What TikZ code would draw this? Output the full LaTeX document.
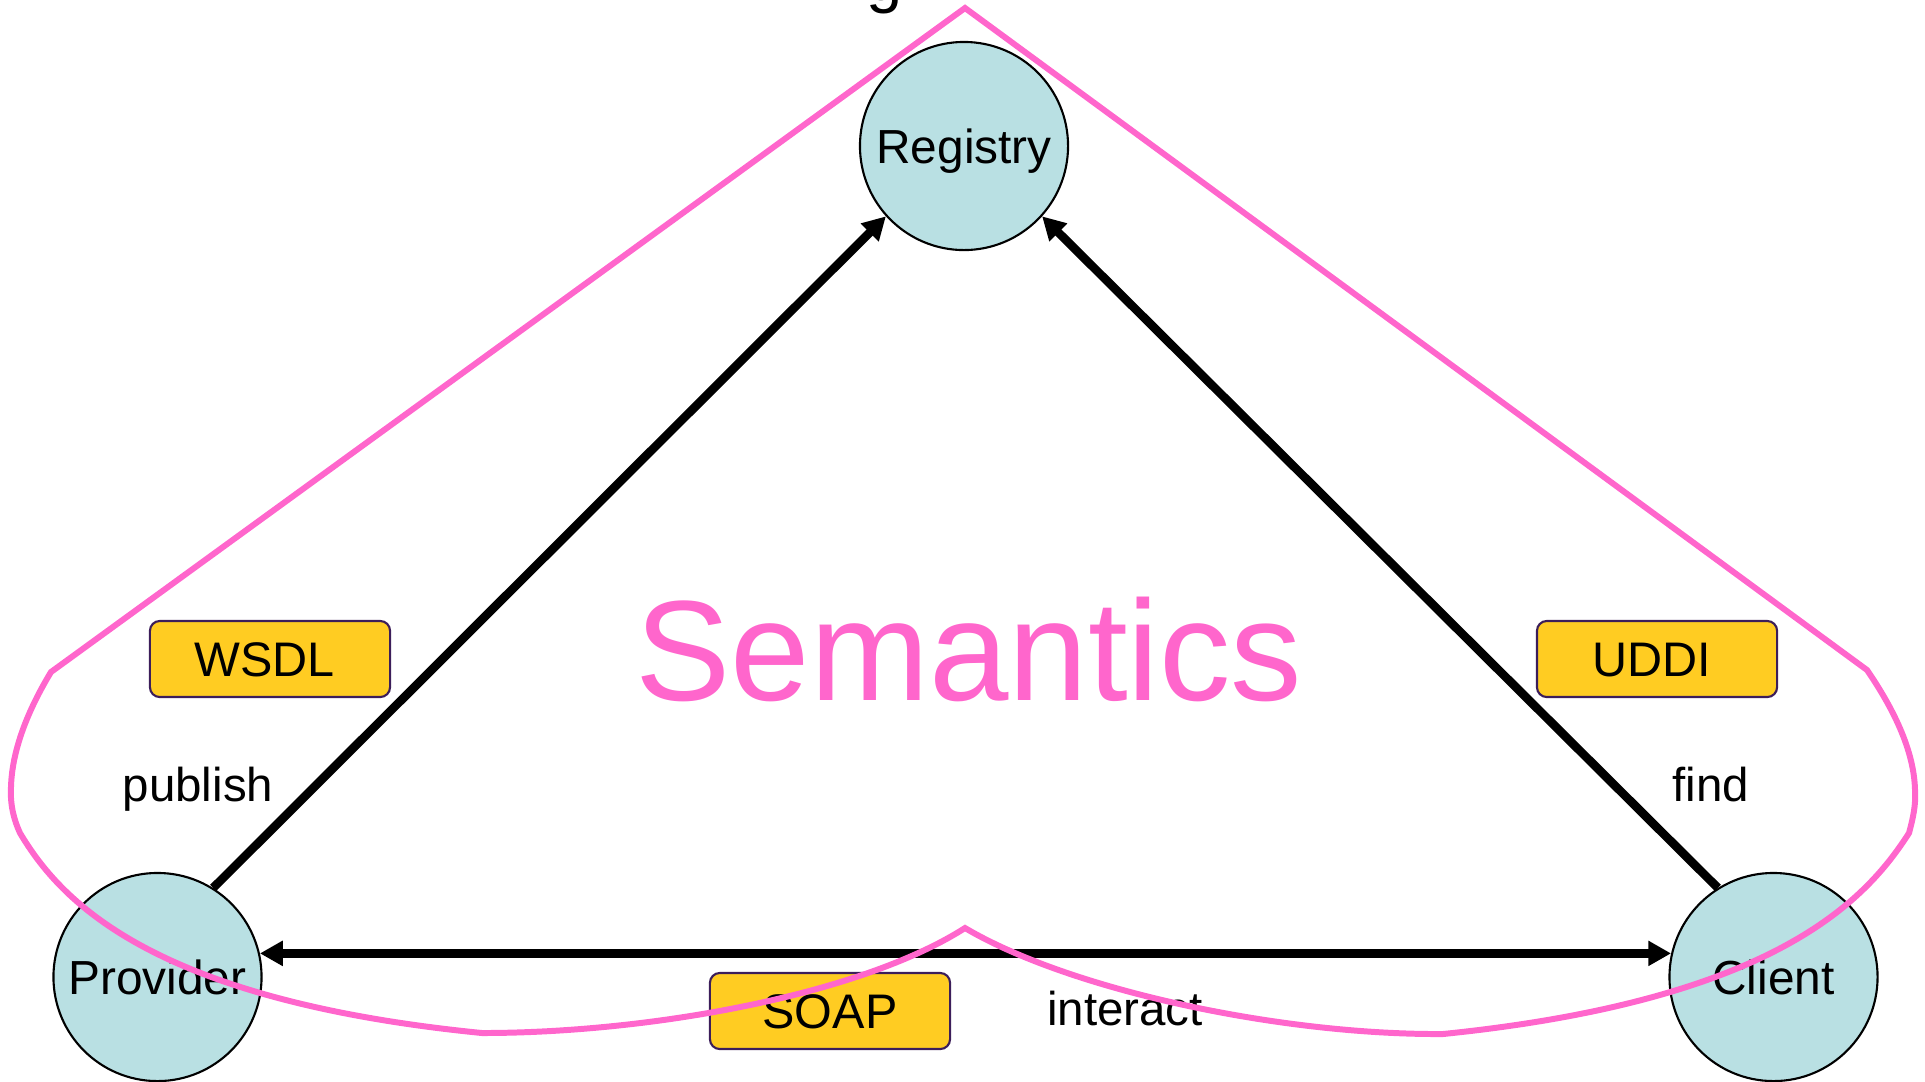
\documentclass[tikz,border=0pt]{standalone}
\usepackage{fontspec}
\setmainfont{Liberation Sans}
\usetikzlibrary{arrows.meta}
\definecolor{circfill}{RGB}{185,224,227}
\definecolor{boxfill}{RGB}{255,204,34}
\definecolor{boxline}{RGB}{60,30,90}
\definecolor{semp}{RGB}{255,102,204}
\begin{document}
\begin{tikzpicture}[x=0.01cm,y=-0.01cm,
  actor/.style={circle,draw=black,line width=0.6pt,fill=circfill,minimum size=2.08cm,inner sep=0pt,
    font=\fontsize{13.6}{16}\selectfont,text height=9.7pt,text depth=0pt},
  techbox/.style={rectangle,rounded corners=2.8pt,draw=boxline,line width=0.6pt,fill=boxfill,
    minimum width=2.4cm,minimum height=0.76cm,inner sep=0pt,
    font=\fontsize{13.8}{16}\selectfont,text height=9.9pt,text depth=0pt},
  lbl/.style={anchor=base,font=\fontsize{13.5}{16}\selectfont},
  conn/.style={line width=2.45pt},
  tip/.style={-{Triangle[length=6.5pt,width=6.8pt]}},
  semline/.style={draw=semp,line width=1.7pt,line join=miter}]
\useasboundingbox (0,0) rectangle (1925,1081);
\node[anchor=base,font=\fontsize{18.5}{22}\selectfont] (title) at (885,0) {g};
% actors
\node[actor] (reg) at (964,146) {Registry};
\node[actor] (prov) at (157.5,977) {Provider};
\node[actor] (cli) at (1773.5,977) {Client};
% technology boxes
\node[techbox] (wsdl) at (270,659) {\hspace*{-3pt}WSDL};
\node[techbox] (uddi) at (1657,659) {\hspace*{-3pt}UDDI};
\node[techbox] (soap) at (830,1011) {SOAP};
% labels
\node[lbl] (publish) at (198,801) {publish};
\node[lbl] (find) at (1711,801) {find};
\node[lbl] (interact) at (1125,1025) {interact};
\node[anchor=base,text=semp,font=\fontsize{40.6}{48}\selectfont] (sem) at (969,700) {Semantics};
% connectors
\draw[conn,tip] (prov.58) -- (reg.222);
\draw[conn,tip] (cli.122) -- (reg.318);
\draw[conn,{Triangle[length=6.5pt,width=6.8pt]}-{Triangle[length=6.5pt,width=6.8pt]}] (prov.13) -- (cli.167);
% semantics outline
\draw[semline] (965,8) -- (51,672)
  .. controls (28,710) and (12,750) .. (11,787)
  .. controls (10,805) and (14,820) .. (20,833)
  .. controls (60,900) and (150,1000) .. (482,1033)
  .. controls (650,1033) and (860,995) .. (965,928)
  .. controls (1070,990) and (1280,1035) .. (1443,1034)
  .. controls (1776,1000) and (1866,900) .. (1909,833)
  .. controls (1913,818) and (1916,805) .. (1915,790)
  .. controls (1914,750) and (1893,708) .. (1867,670)
  -- cycle;
\end{tikzpicture}
\end{document}
